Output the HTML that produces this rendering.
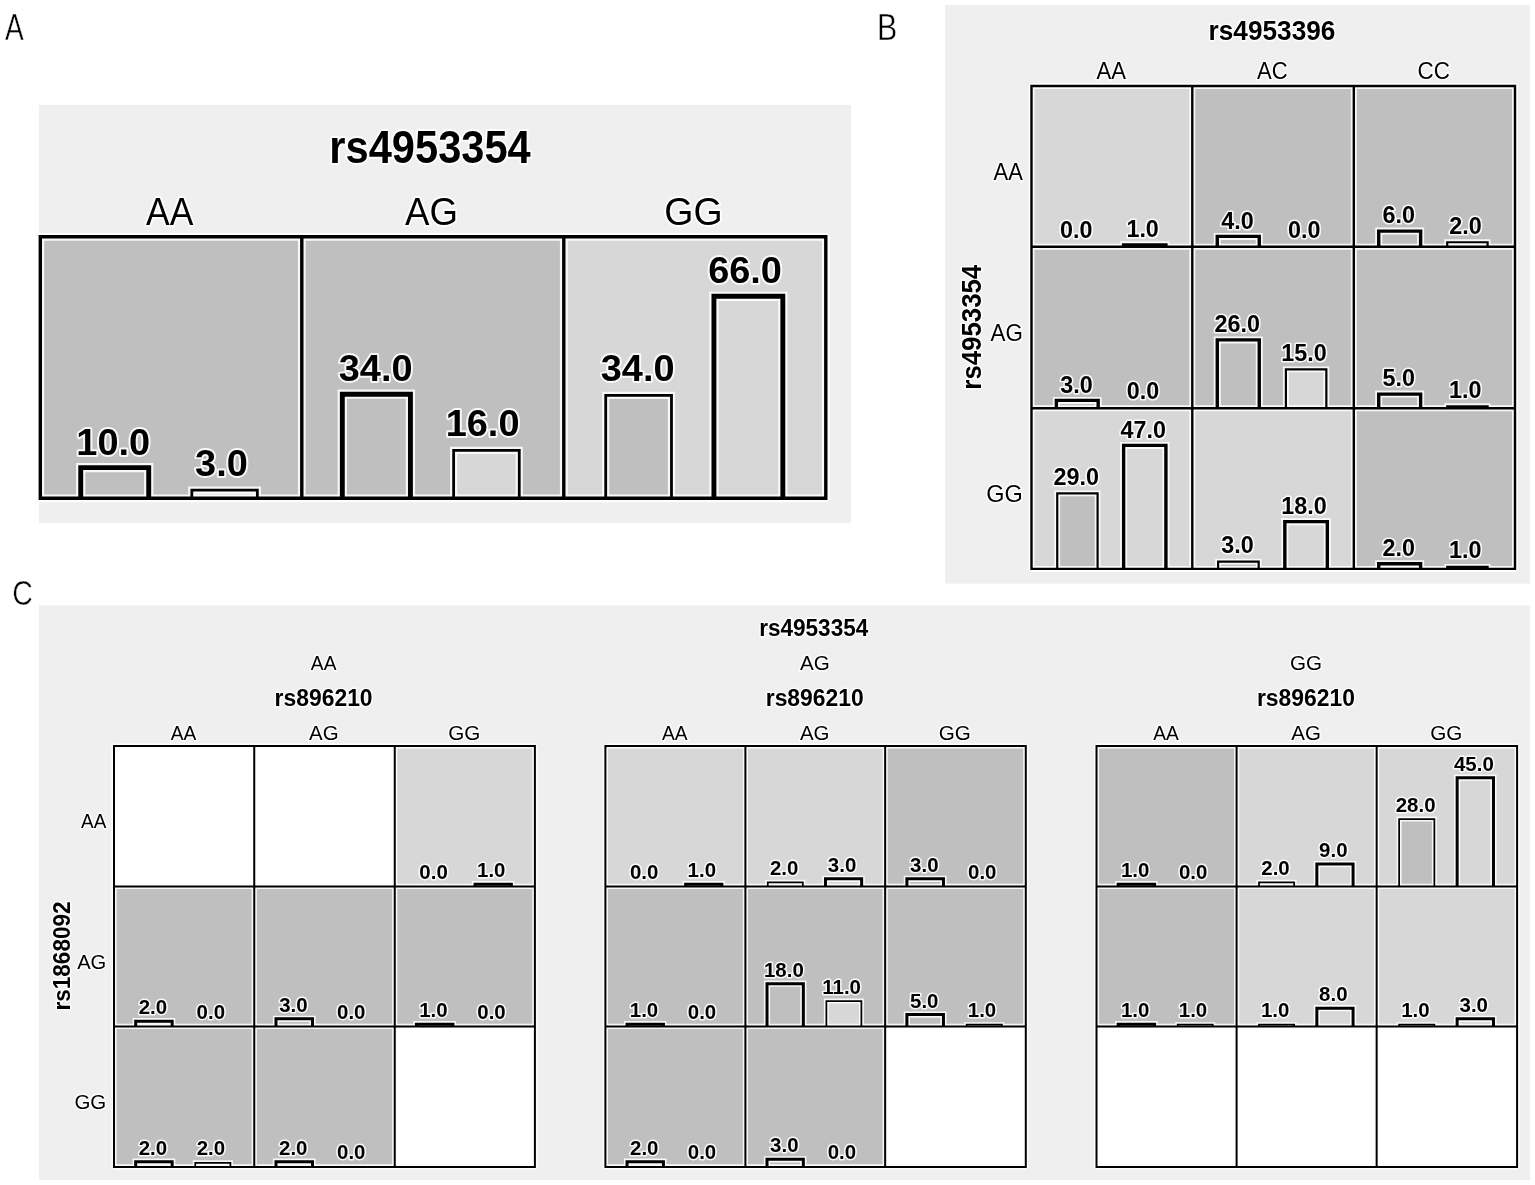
<!DOCTYPE html>
<html lang="en">
<head>
<meta charset="utf-8">
<title>Figure</title>
<style>
html,body{margin:0;padding:0;background:#fff;}
body{width:1535px;height:1185px;overflow:hidden;}
svg{display:block;}
text{font-family:"Liberation Sans",sans-serif;fill:#000;text-anchor:middle;paint-order:stroke fill;stroke:rgba(255,255,255,0.88);stroke-width:3px;stroke-linejoin:round;}
text.hA{stroke-width:3.8px;}
text.hB{stroke-width:3.2px;}
text.b{font-weight:bold;}
text.e{text-anchor:end;}
text.L{text-anchor:start;stroke:#fff;stroke-width:0.5px;paint-order:fill stroke;}
.halo path{fill:none;stroke:rgba(255,255,255,0.88);stroke-linecap:butt;stroke-linejoin:miter;}
.line path{fill:none;stroke:#000;stroke-linecap:butt;stroke-linejoin:miter;}
</style>
</head>
<body>
<svg width="1535" height="1185" viewBox="0 0 1535 1185">
<g class="bg">
<rect x="39" y="105" width="812" height="418" fill="#efefef"/>
<rect x="945" y="5" width="585" height="578.7" fill="#efefef"/>
<rect x="39" y="605.5" width="1491" height="574.5" fill="#efefef"/>
<rect x="40.3" y="236.8" width="261.5" height="261.5" fill="#bfbfbf"/>
<rect x="301.8" y="236.8" width="262" height="261.5" fill="#bfbfbf"/>
<rect x="563.8" y="236.8" width="262" height="261.5" fill="#d7d7d7"/>
<rect x="1031.5" y="86" width="160.8" height="160.8" fill="#d7d7d7"/>
<rect x="1192.3" y="86" width="161.5" height="160.8" fill="#bfbfbf"/>
<rect x="1353.8" y="86" width="161.2" height="160.8" fill="#bfbfbf"/>
<rect x="1031.5" y="246.8" width="160.8" height="161.4" fill="#bfbfbf"/>
<rect x="1192.3" y="246.8" width="161.5" height="161.4" fill="#bfbfbf"/>
<rect x="1353.8" y="246.8" width="161.2" height="161.4" fill="#bfbfbf"/>
<rect x="1031.5" y="408.2" width="160.8" height="160.7" fill="#d7d7d7"/>
<rect x="1192.3" y="408.2" width="161.5" height="160.7" fill="#d7d7d7"/>
<rect x="1353.8" y="408.2" width="161.2" height="160.7" fill="#bfbfbf"/>
<rect x="114" y="746" width="140.25" height="140.4" fill="#fff"/>
<rect x="254.25" y="746" width="140.5" height="140.4" fill="#fff"/>
<rect x="394.75" y="746" width="140.15" height="140.4" fill="#d7d7d7"/>
<rect x="114" y="886.4" width="140.25" height="140" fill="#bfbfbf"/>
<rect x="254.25" y="886.4" width="140.5" height="140" fill="#bfbfbf"/>
<rect x="394.75" y="886.4" width="140.15" height="140" fill="#bfbfbf"/>
<rect x="114" y="1026.4" width="140.25" height="140.5" fill="#bfbfbf"/>
<rect x="254.25" y="1026.4" width="140.5" height="140.5" fill="#bfbfbf"/>
<rect x="394.75" y="1026.4" width="140.15" height="140.5" fill="#fff"/>
<rect x="605.4" y="746" width="140" height="140.4" fill="#d7d7d7"/>
<rect x="745.4" y="746" width="139.75" height="140.4" fill="#d7d7d7"/>
<rect x="885.15" y="746" width="140.65" height="140.4" fill="#bfbfbf"/>
<rect x="605.4" y="886.4" width="140" height="140" fill="#bfbfbf"/>
<rect x="745.4" y="886.4" width="139.75" height="140" fill="#bfbfbf"/>
<rect x="885.15" y="886.4" width="140.65" height="140" fill="#bfbfbf"/>
<rect x="605.4" y="1026.4" width="140" height="140.5" fill="#bfbfbf"/>
<rect x="745.4" y="1026.4" width="139.75" height="140.5" fill="#bfbfbf"/>
<rect x="885.15" y="1026.4" width="140.65" height="140.5" fill="#fff"/>
<rect x="1096.5" y="746" width="140.1" height="140.4" fill="#bfbfbf"/>
<rect x="1236.6" y="746" width="140.05" height="140.4" fill="#d7d7d7"/>
<rect x="1376.65" y="746" width="140.45" height="140.4" fill="#d7d7d7"/>
<rect x="1096.5" y="886.4" width="140.1" height="140" fill="#bfbfbf"/>
<rect x="1236.6" y="886.4" width="140.05" height="140" fill="#d7d7d7"/>
<rect x="1376.65" y="886.4" width="140.45" height="140" fill="#d7d7d7"/>
<rect x="1096.5" y="1026.4" width="140.1" height="140.5" fill="#fff"/>
<rect x="1236.6" y="1026.4" width="140.05" height="140.5" fill="#fff"/>
<rect x="1376.65" y="1026.4" width="140.45" height="140.5" fill="#fff"/>
</g>
<g class="fill">
<rect x="80.73" y="467.65" width="67.99" height="30.65" fill="#bfbfbf"/>
<rect x="191.84" y="490.22" width="65.51" height="8.08" fill="#d7d7d7"/>
<rect x="342.31" y="394.21" width="68.12" height="104.09" fill="#bfbfbf"/>
<rect x="453.63" y="450.44" width="65.63" height="47.86" fill="#d7d7d7"/>
<rect x="605.72" y="395.36" width="65.76" height="102.94" fill="#bfbfbf"/>
<rect x="713.93" y="296.29" width="68.91" height="202.01" fill="#d7d7d7"/>
<rect x="1123.64" y="244.87" width="42.29" height="1.93" fill="#d7d7d7"/>
<rect x="1217.27" y="236.38" width="41.99" height="10.42" fill="#bfbfbf"/>
<rect x="1378.72" y="231.12" width="41.91" height="15.68" fill="#bfbfbf"/>
<rect x="1447.22" y="242.24" width="40.38" height="4.56" fill="#d7d7d7"/>
<rect x="1056.36" y="400.41" width="41.81" height="7.79" fill="#bfbfbf"/>
<rect x="1217.27" y="339.92" width="41.99" height="68.28" fill="#bfbfbf"/>
<rect x="1285.89" y="369.45" width="40.46" height="38.75" fill="#d7d7d7"/>
<rect x="1378.72" y="394.1" width="41.91" height="14.1" fill="#bfbfbf"/>
<rect x="1447.22" y="406.27" width="40.38" height="1.93" fill="#d7d7d7"/>
<rect x="1057.23" y="493.33" width="40.36" height="75.57" fill="#bfbfbf"/>
<rect x="1123.64" y="445.39" width="42.29" height="123.51" fill="#d7d7d7"/>
<rect x="1218.14" y="561.71" width="40.54" height="7.19" fill="#bfbfbf"/>
<rect x="1284.84" y="521.66" width="42.47" height="47.24" fill="#d7d7d7"/>
<rect x="1378.72" y="563.74" width="41.91" height="5.16" fill="#bfbfbf"/>
<rect x="1447.22" y="566.97" width="40.38" height="1.93" fill="#d7d7d7"/>
<rect x="475.06" y="884.2" width="36.27" height="2.2" fill="#d7d7d7"/>
<rect x="135.68" y="1021.2" width="36.47" height="5.2" fill="#bfbfbf"/>
<rect x="275.97" y="1018.8" width="36.53" height="7.6" fill="#bfbfbf"/>
<rect x="416.42" y="1024.2" width="36.44" height="2.2" fill="#bfbfbf"/>
<rect x="135.68" y="1161.7" width="36.47" height="5.2" fill="#bfbfbf"/>
<rect x="195.27" y="1162.78" width="35.13" height="4.12" fill="#d7d7d7"/>
<rect x="275.97" y="1161.7" width="36.53" height="5.2" fill="#bfbfbf"/>
<rect x="685.62" y="884.2" width="36.23" height="2.2" fill="#d7d7d7"/>
<rect x="767.76" y="882.27" width="35.08" height="4.12" fill="#bfbfbf"/>
<rect x="825.48" y="878.8" width="36.17" height="7.6" fill="#d7d7d7"/>
<rect x="906.89" y="878.8" width="36.57" height="7.6" fill="#bfbfbf"/>
<rect x="627.04" y="1024.2" width="36.4" height="2.2" fill="#bfbfbf"/>
<rect x="767.01" y="983.7" width="36.33" height="42.7" fill="#bfbfbf"/>
<rect x="826.39" y="1001.08" width="35.01" height="25.33" fill="#d7d7d7"/>
<rect x="906.89" y="1014.6" width="36.57" height="11.8" fill="#bfbfbf"/>
<rect x="966.66" y="1024.67" width="35.23" height="1.73" fill="#d7d7d7"/>
<rect x="627.04" y="1161.7" width="36.4" height="5.2" fill="#bfbfbf"/>
<rect x="767.01" y="1159.3" width="36.33" height="7.6" fill="#bfbfbf"/>
<rect x="1118.16" y="884.2" width="36.43" height="2.2" fill="#bfbfbf"/>
<rect x="1259.01" y="882.27" width="35.15" height="4.12" fill="#bfbfbf"/>
<rect x="1316.85" y="864" width="36.24" height="22.4" fill="#d7d7d7"/>
<rect x="1399.12" y="819.08" width="35.25" height="67.32" fill="#bfbfbf"/>
<rect x="1457.13" y="777.7" width="36.35" height="108.7" fill="#d7d7d7"/>
<rect x="1118.16" y="1024.2" width="36.43" height="2.2" fill="#bfbfbf"/>
<rect x="1177.69" y="1024.67" width="35.1" height="1.73" fill="#d7d7d7"/>
<rect x="1259.01" y="1024.67" width="35.15" height="1.73" fill="#bfbfbf"/>
<rect x="1316.85" y="1008.2" width="36.24" height="18.2" fill="#d7d7d7"/>
<rect x="1399.12" y="1024.67" width="35.25" height="1.73" fill="#bfbfbf"/>
<rect x="1457.13" y="1018.8" width="36.35" height="7.6" fill="#d7d7d7"/>
</g>
<g class="halo">
<path d="M80.73 498.3V467.65H148.72V498.3" stroke-width="9.3"/>
<path d="M191.84 498.3V490.22H257.34V498.3" stroke-width="7.2"/>
<path d="M342.31 498.3V394.21H410.43V498.3" stroke-width="9.3"/>
<path d="M453.63 498.3V450.44H519.26V498.3" stroke-width="7.2"/>
<path d="M605.72 498.3V395.36H671.48V498.3" stroke-width="7.2"/>
<path d="M713.93 498.3V296.29H782.83V498.3" stroke-width="9.3"/>
<path d="M40.3 235.1V500M301.8 235.1V500M563.8 235.1V500M825.8 235.1V500M38.6 236.8H827.5M38.6 498.3H827.5" stroke-width="7.8"/>
<path d="M1123.64 246.8V244.87H1165.93V246.8" stroke-width="7"/>
<path d="M1217.27 246.8V236.38H1259.26V246.8" stroke-width="7"/>
<path d="M1378.72 246.8V231.12H1420.63V246.8" stroke-width="7"/>
<path d="M1447.22 246.8V242.24H1487.6V246.8" stroke-width="5.8"/>
<path d="M1056.36 408.2V400.41H1098.17V408.2" stroke-width="7"/>
<path d="M1217.27 408.2V339.92H1259.26V408.2" stroke-width="7"/>
<path d="M1285.89 408.2V369.45H1326.35V408.2" stroke-width="5.8"/>
<path d="M1378.72 408.2V394.1H1420.63V408.2" stroke-width="7"/>
<path d="M1447.22 408.2V406.27H1487.6V408.2" stroke-width="5.8"/>
<path d="M1057.23 568.9V493.33H1097.59V568.9" stroke-width="5.8"/>
<path d="M1123.64 568.9V445.39H1165.93V568.9" stroke-width="7"/>
<path d="M1218.14 568.9V561.71H1258.68V568.9" stroke-width="5.8"/>
<path d="M1284.84 568.9V521.66H1327.31V568.9" stroke-width="7"/>
<path d="M1378.72 568.9V563.74H1420.63V568.9" stroke-width="7"/>
<path d="M1447.22 568.9V566.97H1487.6V568.9" stroke-width="5.8"/>
<path d="M1031.5 84.8V570.1M1192.3 84.8V570.1M1353.8 84.8V570.1M1515 84.8V570.1M1030.3 86H1516.2M1030.3 246.8H1516.2M1030.3 408.2H1516.2M1030.3 568.9H1516.2" stroke-width="6"/>
<path d="M475.06 886.4V884.2H511.33V886.4" stroke-width="6.2"/>
<path d="M135.68 1026.4V1021.2H172.15V1026.4" stroke-width="6.2"/>
<path d="M275.97 1026.4V1018.8H312.5V1026.4" stroke-width="6.2"/>
<path d="M416.42 1026.4V1024.2H452.86V1026.4" stroke-width="6.2"/>
<path d="M135.68 1166.9V1161.7H172.15V1166.9" stroke-width="6.2"/>
<path d="M195.27 1166.9V1162.78H230.41V1166.9" stroke-width="4.95"/>
<path d="M275.97 1166.9V1161.7H312.5V1166.9" stroke-width="6.2"/>
<path d="M114 745V1167.9M254.25 745V1167.9M394.75 745V1167.9M534.9 745V1167.9M113 746H535.9M113 886.4H535.9M113 1026.4H535.9M113 1166.9H535.9" stroke-width="5.2"/>
<path d="M685.62 886.4V884.2H721.85V886.4" stroke-width="6.2"/>
<path d="M767.76 886.4V882.27H802.84V886.4" stroke-width="4.95"/>
<path d="M825.48 886.4V878.8H861.64V886.4" stroke-width="6.2"/>
<path d="M906.89 886.4V878.8H943.46V886.4" stroke-width="6.2"/>
<path d="M627.04 1026.4V1024.2H663.44V1026.4" stroke-width="6.2"/>
<path d="M767.01 1026.4V983.7H803.34V1026.4" stroke-width="6.2"/>
<path d="M826.39 1026.4V1001.08H861.39V1026.4" stroke-width="4.95"/>
<path d="M906.89 1026.4V1014.6H943.46V1026.4" stroke-width="6.2"/>
<path d="M966.66 1026.4V1024.67H1001.89V1026.4" stroke-width="4.95"/>
<path d="M627.04 1166.9V1161.7H663.44V1166.9" stroke-width="6.2"/>
<path d="M767.01 1166.9V1159.3H803.34V1166.9" stroke-width="6.2"/>
<path d="M605.4 745V1167.9M745.4 745V1167.9M885.15 745V1167.9M1025.8 745V1167.9M604.4 746H1026.8M604.4 886.4H1026.8M604.4 1026.4H1026.8M604.4 1166.9H1026.8" stroke-width="5.2"/>
<path d="M1118.16 886.4V884.2H1154.59V886.4" stroke-width="6.2"/>
<path d="M1259.01 886.4V882.27H1294.16V886.4" stroke-width="4.95"/>
<path d="M1316.85 886.4V864H1353.09V886.4" stroke-width="6.2"/>
<path d="M1399.12 886.4V819.08H1434.37V886.4" stroke-width="4.95"/>
<path d="M1457.13 886.4V777.7H1493.48V886.4" stroke-width="6.2"/>
<path d="M1118.16 1026.4V1024.2H1154.59V1026.4" stroke-width="6.2"/>
<path d="M1177.69 1026.4V1024.67H1212.78V1026.4" stroke-width="4.95"/>
<path d="M1259.01 1026.4V1024.67H1294.16V1026.4" stroke-width="4.95"/>
<path d="M1316.85 1026.4V1008.2H1353.09V1026.4" stroke-width="6.2"/>
<path d="M1399.12 1026.4V1024.67H1434.37V1026.4" stroke-width="4.95"/>
<path d="M1457.13 1026.4V1018.8H1493.48V1026.4" stroke-width="6.2"/>
<path d="M1096.5 745V1167.9M1236.6 745V1167.9M1376.65 745V1167.9M1517.1 745V1167.9M1095.5 746H1518.1M1095.5 886.4H1518.1M1095.5 1026.4H1518.1M1095.5 1166.9H1518.1" stroke-width="5.2"/>
</g>
<g class="line">
<path d="M80.73 498.3V467.65H148.72V498.3" stroke-width="4.9"/>
<path d="M191.84 498.3V490.22H257.34V498.3" stroke-width="2.8"/>
<path d="M342.31 498.3V394.21H410.43V498.3" stroke-width="4.9"/>
<path d="M453.63 498.3V450.44H519.26V498.3" stroke-width="2.8"/>
<path d="M605.72 498.3V395.36H671.48V498.3" stroke-width="2.8"/>
<path d="M713.93 498.3V296.29H782.83V498.3" stroke-width="4.9"/>
<path d="M40.3 235.1V500M301.8 235.1V500M563.8 235.1V500M825.8 235.1V500M38.6 236.8H827.5M38.6 498.3H827.5" stroke-width="3.4"/>
<path d="M1123.64 246.8V244.87H1165.93V246.8" stroke-width="3.4"/>
<path d="M1217.27 246.8V236.38H1259.26V246.8" stroke-width="3.4"/>
<path d="M1378.72 246.8V231.12H1420.63V246.8" stroke-width="3.4"/>
<path d="M1447.22 246.8V242.24H1487.6V246.8" stroke-width="2.2"/>
<path d="M1056.36 408.2V400.41H1098.17V408.2" stroke-width="3.4"/>
<path d="M1217.27 408.2V339.92H1259.26V408.2" stroke-width="3.4"/>
<path d="M1285.89 408.2V369.45H1326.35V408.2" stroke-width="2.2"/>
<path d="M1378.72 408.2V394.1H1420.63V408.2" stroke-width="3.4"/>
<path d="M1447.22 408.2V406.27H1487.6V408.2" stroke-width="2.2"/>
<path d="M1057.23 568.9V493.33H1097.59V568.9" stroke-width="2.2"/>
<path d="M1123.64 568.9V445.39H1165.93V568.9" stroke-width="3.4"/>
<path d="M1218.14 568.9V561.71H1258.68V568.9" stroke-width="2.2"/>
<path d="M1284.84 568.9V521.66H1327.31V568.9" stroke-width="3.4"/>
<path d="M1378.72 568.9V563.74H1420.63V568.9" stroke-width="3.4"/>
<path d="M1447.22 568.9V566.97H1487.6V568.9" stroke-width="2.2"/>
<path d="M1031.5 84.8V570.1M1192.3 84.8V570.1M1353.8 84.8V570.1M1515 84.8V570.1M1030.3 86H1516.2M1030.3 246.8H1516.2M1030.3 408.2H1516.2M1030.3 568.9H1516.2" stroke-width="2.4"/>
<path d="M475.06 886.4V884.2H511.33V886.4" stroke-width="3"/>
<path d="M135.68 1026.4V1021.2H172.15V1026.4" stroke-width="3"/>
<path d="M275.97 1026.4V1018.8H312.5V1026.4" stroke-width="3"/>
<path d="M416.42 1026.4V1024.2H452.86V1026.4" stroke-width="3"/>
<path d="M135.68 1166.9V1161.7H172.15V1166.9" stroke-width="3"/>
<path d="M195.27 1166.9V1162.78H230.41V1166.9" stroke-width="1.75"/>
<path d="M275.97 1166.9V1161.7H312.5V1166.9" stroke-width="3"/>
<path d="M114 745V1167.9M254.25 745V1167.9M394.75 745V1167.9M534.9 745V1167.9M113 746H535.9M113 886.4H535.9M113 1026.4H535.9M113 1166.9H535.9" stroke-width="2"/>
<path d="M685.62 886.4V884.2H721.85V886.4" stroke-width="3"/>
<path d="M767.76 886.4V882.27H802.84V886.4" stroke-width="1.75"/>
<path d="M825.48 886.4V878.8H861.64V886.4" stroke-width="3"/>
<path d="M906.89 886.4V878.8H943.46V886.4" stroke-width="3"/>
<path d="M627.04 1026.4V1024.2H663.44V1026.4" stroke-width="3"/>
<path d="M767.01 1026.4V983.7H803.34V1026.4" stroke-width="3"/>
<path d="M826.39 1026.4V1001.08H861.39V1026.4" stroke-width="1.75"/>
<path d="M906.89 1026.4V1014.6H943.46V1026.4" stroke-width="3"/>
<path d="M966.66 1026.4V1024.67H1001.89V1026.4" stroke-width="1.75"/>
<path d="M627.04 1166.9V1161.7H663.44V1166.9" stroke-width="3"/>
<path d="M767.01 1166.9V1159.3H803.34V1166.9" stroke-width="3"/>
<path d="M605.4 745V1167.9M745.4 745V1167.9M885.15 745V1167.9M1025.8 745V1167.9M604.4 746H1026.8M604.4 886.4H1026.8M604.4 1026.4H1026.8M604.4 1166.9H1026.8" stroke-width="2"/>
<path d="M1118.16 886.4V884.2H1154.59V886.4" stroke-width="3"/>
<path d="M1259.01 886.4V882.27H1294.16V886.4" stroke-width="1.75"/>
<path d="M1316.85 886.4V864H1353.09V886.4" stroke-width="3"/>
<path d="M1399.12 886.4V819.08H1434.37V886.4" stroke-width="1.75"/>
<path d="M1457.13 886.4V777.7H1493.48V886.4" stroke-width="3"/>
<path d="M1118.16 1026.4V1024.2H1154.59V1026.4" stroke-width="3"/>
<path d="M1177.69 1026.4V1024.67H1212.78V1026.4" stroke-width="1.75"/>
<path d="M1259.01 1026.4V1024.67H1294.16V1026.4" stroke-width="1.75"/>
<path d="M1316.85 1026.4V1008.2H1353.09V1026.4" stroke-width="3"/>
<path d="M1399.12 1026.4V1024.67H1434.37V1026.4" stroke-width="1.75"/>
<path d="M1457.13 1026.4V1018.8H1493.48V1026.4" stroke-width="3"/>
<path d="M1096.5 745V1167.9M1236.6 745V1167.9M1376.65 745V1167.9M1517.1 745V1167.9M1095.5 746H1518.1M1095.5 886.4H1518.1M1095.5 1026.4H1518.1M1095.5 1166.9H1518.1" stroke-width="2"/>
</g>
<g class="txt">
<text class="L" transform="translate(4.93,40) scale(0.754,1)" font-size="37.24">A</text>
<text class="L" transform="translate(876.89,39.6) scale(0.830,1)" font-size="36.65">B</text>
<text class="L" transform="translate(12.33,604.5) scale(0.810,1)" font-size="35.13">C</text>
<text class="b hA" transform="translate(430.02,162.6) scale(0.9111,1)" font-size="45.7">rs4953354</text>
<text class="r hA" transform="translate(169.75,225.3) scale(0.9339,1)" font-size="38">AA</text>
<text class="r hA" transform="translate(431.5,225.3) scale(0.9641,1)" font-size="38">AG</text>
<text class="r hA" transform="translate(693.5,225.3) scale(0.9864,1)" font-size="38">GG</text>
<text class="b hA" transform="translate(113.23,454.6) scale(1.045,1)" font-size="36.3">10.0</text>
<text class="b hA" transform="translate(221.46,475.62) scale(1.045,1)" font-size="36.3">3.0</text>
<text class="b hA" transform="translate(375.63,381.16) scale(1.045,1)" font-size="36.3">34.0</text>
<text class="b hA" transform="translate(482.58,435.84) scale(1.045,1)" font-size="36.3">16.0</text>
<text class="b hA" transform="translate(637.63,380.76) scale(1.045,1)" font-size="36.3">34.0</text>
<text class="b hA" transform="translate(745.05,283.24) scale(1.045,1)" font-size="36.3">66.0</text>
<text class="b hB" transform="translate(1271.97,40.2) scale(0.9224,1)" font-size="28.4">rs4953396</text>
<text class="r hB" transform="translate(1111.2,78.7) scale(0.9528,1)" font-size="23.2">AA</text>
<text class="r hB" transform="translate(1272.35,78.7) scale(0.95,1)" font-size="23.2">AC</text>
<text class="r hB" transform="translate(1433.7,78.7) scale(0.967,1)" font-size="23.2">CC</text>
<text class="r hB e" transform="translate(1022.8,180.2) scale(0.9463,1)" font-size="23.2">AA</text>
<text class="r hB e" transform="translate(1022.8,341) scale(0.9645,1)" font-size="23.2">AG</text>
<text class="r hB e" transform="translate(1022.8,502.1) scale(1.0128,1)" font-size="23.2">GG</text>
<text class="b hB" transform="translate(981,327.21) rotate(-90) scale(0.9092,1)" font-size="28.4">rs4953354</text>
<text class="b hB" transform="translate(1076.23,237.8) scale(1.015,1)" font-size="23">0.0</text>
<text class="b hB" transform="translate(1142.62,237.07) scale(1.015,1)" font-size="23">1.0</text>
<text class="b hB" transform="translate(1237.52,228.58) scale(1.015,1)" font-size="23">4.0</text>
<text class="b hB" transform="translate(1304.18,237.8) scale(1.015,1)" font-size="23">0.0</text>
<text class="b hB" transform="translate(1398.67,223.32) scale(1.015,1)" font-size="23">6.0</text>
<text class="b hB" transform="translate(1465.53,233.54) scale(1.015,1)" font-size="23">2.0</text>
<text class="b hB" transform="translate(1076.43,392.61) scale(1.015,1)" font-size="23">3.0</text>
<text class="b hB" transform="translate(1142.89,399.2) scale(1.015,1)" font-size="23">0.0</text>
<text class="b hB" transform="translate(1237.3,332.12) scale(1.015,1)" font-size="23">26.0</text>
<text class="b hB" transform="translate(1303.93,360.75) scale(1.015,1)" font-size="23">15.0</text>
<text class="b hB" transform="translate(1398.76,386.3) scale(1.015,1)" font-size="23">5.0</text>
<text class="b hB" transform="translate(1465.21,397.57) scale(1.015,1)" font-size="23">1.0</text>
<text class="b hB" transform="translate(1076.3,484.63) scale(1.015,1)" font-size="23">29.0</text>
<text class="b hB" transform="translate(1143.19,437.59) scale(1.015,1)" font-size="23">47.0</text>
<text class="b hB" transform="translate(1237.43,553.01) scale(1.015,1)" font-size="23">3.0</text>
<text class="b hB" transform="translate(1303.93,513.86) scale(1.015,1)" font-size="23">18.0</text>
<text class="b hB" transform="translate(1398.7,555.94) scale(1.015,1)" font-size="23">2.0</text>
<text class="b hB" transform="translate(1465.21,558.27) scale(1.015,1)" font-size="23">1.0</text>
<text class="b hC" transform="translate(813.73,636) scale(0.9404,1)" font-size="24">rs4953354</text>
<text class="r hC" transform="translate(323.65,670) scale(0.9539,1)" font-size="20.1">AA</text>
<text class="b hC" transform="translate(323.59,706.3) scale(0.9385,1)" font-size="24.4">rs896210</text>
<text class="r hC" transform="translate(183.53,740) scale(0.9539,1)" font-size="20.1">AA</text>
<text class="r hC" transform="translate(323.9,740) scale(1.0187,1)" font-size="20.1">AG</text>
<text class="r hC" transform="translate(464.22,740) scale(1.0263,1)" font-size="20.1">GG</text>
<text class="b hC" transform="translate(433.59,878.9) scale(1.045,1)" font-size="19.6">0.0</text>
<text class="b hC" transform="translate(491.26,877.1) scale(1.045,1)" font-size="19.6">1.0</text>
<text class="b hC" transform="translate(152.92,1014.1) scale(1.045,1)" font-size="19.6">2.0</text>
<text class="b hC" transform="translate(210.81,1018.9) scale(1.045,1)" font-size="19.6">0.0</text>
<text class="b hC" transform="translate(293.37,1011.7) scale(1.045,1)" font-size="19.6">3.0</text>
<text class="b hC" transform="translate(351.23,1018.9) scale(1.045,1)" font-size="19.6">0.0</text>
<text class="b hC" transform="translate(433.36,1017.1) scale(1.045,1)" font-size="19.6">1.0</text>
<text class="b hC" transform="translate(491.49,1018.9) scale(1.045,1)" font-size="19.6">0.0</text>
<text class="b hC" transform="translate(152.92,1154.6) scale(1.045,1)" font-size="19.6">2.0</text>
<text class="b hC" transform="translate(210.86,1155.2) scale(1.045,1)" font-size="19.6">2.0</text>
<text class="b hC" transform="translate(293.25,1154.6) scale(1.045,1)" font-size="19.6">2.0</text>
<text class="b hC" transform="translate(351.23,1159.4) scale(1.045,1)" font-size="19.6">0.0</text>
<text class="r hC" transform="translate(814.8,670) scale(1.0259,1)" font-size="20.1">AG</text>
<text class="b hC" transform="translate(814.74,706.3) scale(0.9385,1)" font-size="24.4">rs896210</text>
<text class="r hC" transform="translate(674.8,740) scale(0.9539,1)" font-size="20.1">AA</text>
<text class="r hC" transform="translate(814.67,740) scale(1.0187,1)" font-size="20.1">AG</text>
<text class="r hC" transform="translate(954.87,740) scale(1.0263,1)" font-size="20.1">GG</text>
<text class="b hC" transform="translate(644.2,878.9) scale(1.045,1)" font-size="19.6">0.0</text>
<text class="b hC" transform="translate(701.8,877.1) scale(1.045,1)" font-size="19.6">1.0</text>
<text class="b hC" transform="translate(784.18,874.7) scale(1.045,1)" font-size="19.6">2.0</text>
<text class="b hC" transform="translate(842.04,871.7) scale(1.045,1)" font-size="19.6">3.0</text>
<text class="b hC" transform="translate(924.32,871.7) scale(1.045,1)" font-size="19.6">3.0</text>
<text class="b hC" transform="translate(982.24,878.9) scale(1.045,1)" font-size="19.6">0.0</text>
<text class="b hC" transform="translate(643.97,1017.1) scale(1.045,1)" font-size="19.6">1.0</text>
<text class="b hC" transform="translate(702.03,1018.9) scale(1.045,1)" font-size="19.6">0.0</text>
<text class="b hC" transform="translate(783.91,976.6) scale(1.045,1)" font-size="19.6">18.0</text>
<text class="b hC" transform="translate(841.64,993.5) scale(1.045,1)" font-size="19.6">11.0</text>
<text class="b hC" transform="translate(924.24,1007.5) scale(1.045,1)" font-size="19.6">5.0</text>
<text class="b hC" transform="translate(982.01,1017.1) scale(1.045,1)" font-size="19.6">1.0</text>
<text class="b hC" transform="translate(644.25,1154.6) scale(1.045,1)" font-size="19.6">2.0</text>
<text class="b hC" transform="translate(702.03,1159.4) scale(1.045,1)" font-size="19.6">0.0</text>
<text class="b hC" transform="translate(784.31,1152.2) scale(1.045,1)" font-size="19.6">3.0</text>
<text class="b hC" transform="translate(841.86,1159.4) scale(1.045,1)" font-size="19.6">0.0</text>
<text class="r hC" transform="translate(1306,670) scale(1.0263,1)" font-size="20.1">GG</text>
<text class="b hC" transform="translate(1305.94,706.3) scale(0.9385,1)" font-size="24.4">rs896210</text>
<text class="r hC" transform="translate(1165.95,740) scale(0.9539,1)" font-size="20.1">AA</text>
<text class="r hC" transform="translate(1306.03,740) scale(1.0187,1)" font-size="20.1">AG</text>
<text class="r hC" transform="translate(1446.28,740) scale(1.0263,1)" font-size="20.1">GG</text>
<text class="b hC" transform="translate(1135.1,877.1) scale(1.045,1)" font-size="19.6">1.0</text>
<text class="b hC" transform="translate(1193.2,878.9) scale(1.045,1)" font-size="19.6">0.0</text>
<text class="b hC" transform="translate(1275.47,874.7) scale(1.045,1)" font-size="19.6">2.0</text>
<text class="b hC" transform="translate(1333.32,856.9) scale(1.045,1)" font-size="19.6">9.0</text>
<text class="b hC" transform="translate(1415.64,811.5) scale(1.045,1)" font-size="19.6">28.0</text>
<text class="b hC" transform="translate(1473.87,770.6) scale(1.045,1)" font-size="19.6">45.0</text>
<text class="b hC" transform="translate(1135.1,1017.1) scale(1.045,1)" font-size="19.6">1.0</text>
<text class="b hC" transform="translate(1192.97,1017.1) scale(1.045,1)" font-size="19.6">1.0</text>
<text class="b hC" transform="translate(1275.19,1017.1) scale(1.045,1)" font-size="19.6">1.0</text>
<text class="b hC" transform="translate(1333.34,1001.1) scale(1.045,1)" font-size="19.6">8.0</text>
<text class="b hC" transform="translate(1415.35,1017.1) scale(1.045,1)" font-size="19.6">1.0</text>
<text class="b hC" transform="translate(1473.78,1011.7) scale(1.045,1)" font-size="19.6">3.0</text>
<text class="r hC e" transform="translate(106.3,827.8) scale(0.9427,1)" font-size="20.1">AA</text>
<text class="r hC e" transform="translate(106.3,968.5) scale(1.0041,1)" font-size="20.1">AG</text>
<text class="r hC e" transform="translate(106.3,1108.5) scale(1.0194,1)" font-size="20.1">GG</text>
<text class="b hC" transform="translate(70.3,955.97) rotate(-90) scale(0.9211,1)" font-size="24.5">rs1868092</text>
</g>
</svg>
</body>
</html>
